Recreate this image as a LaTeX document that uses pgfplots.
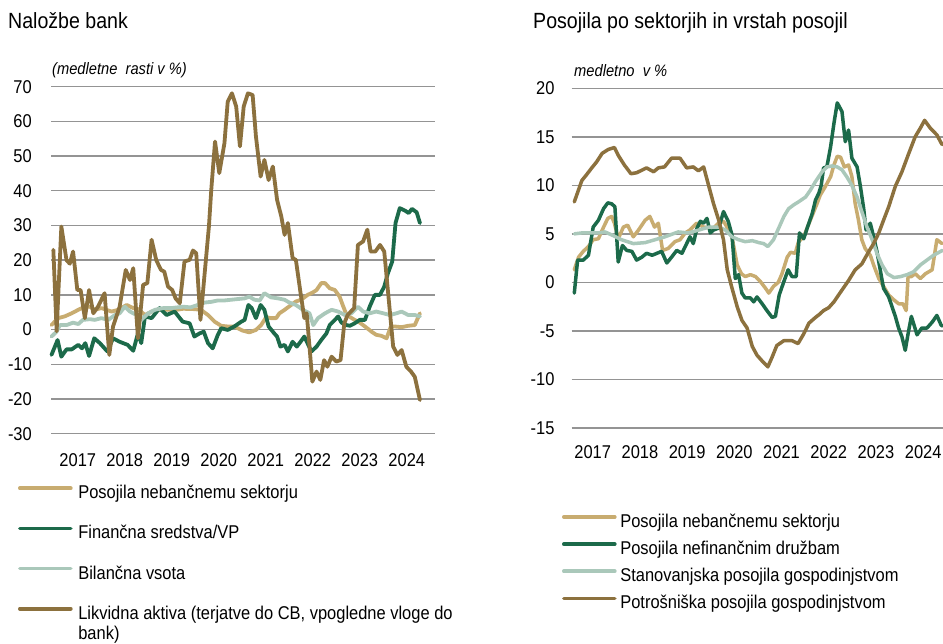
\documentclass[border=0pt]{standalone}
\usepackage{fontspec}
\setmainfont{Liberation Sans}[FakeStretch=0.89]
\usepackage{pgfplots}
\pgfplotsset{compat=1.18}
\definecolor{cTan}{RGB}{200,172,112}
\definecolor{cGreen}{RGB}{28,106,74}
\definecolor{cGrey}{RGB}{170,200,186}
\definecolor{cBrown}{RGB}{140,113,62}
\newcommand{\ftick}{\fontsize{18.5bp}{22bp}\selectfont}
\newcommand{\ftitle}{\fontsize{22bp}{26bp}\selectfont}
\newcommand{\fsub}{\fontsize{16.5bp}{20bp}\selectfont\itshape}
\newcommand{\fleg}{\fontsize{18.5bp}{19bp}\selectfont}
\pgfplotsset{mystyle/.style={
  scale only axis, clip=false,
  axis line style={draw=none}, tick style={draw=none},
  ymajorgrids, major grid style={line width=1.4bp, color=black!42},
  /pgf/number format/assume math mode=true,
  ticklabel style={font=\ftick},
  xticklabel style={inner sep=0pt, anchor=north},
  yticklabel style={inner sep=0pt, anchor=east},
  xtick={2017,2018,2019,2020,2021,2022,2023,2024},
  xticklabels={2017,2018,2019,2020,2021,2022,2023,2024},
  every axis plot/.append style={line join=round, line cap=round},
  legend cell align=left,
  legend image code/.code={\draw[##1, line width=3.6bp, line cap=round] (0bp,4.5bp) -- (51bp,4.5bp);},
}}
\begin{document}
\begin{tikzpicture}
\useasboundingbox (0,0) rectangle (943bp,644bp);
\fill[white] (0,0) rectangle (943bp,644bp);
\node[anchor=base west, inner sep=0pt, font=\ftitle] at (8bp,615bp) {Naložbe bank};
\node[anchor=base west, inner sep=0pt, font=\ftitle] at (533bp,615bp) {Posojila po sektorjih in vrstah posojil};
\node[anchor=base west, inner sep=0pt, font=\fsub] at (52bp,569bp) {(medletne \ rasti v \%)};
\node[anchor=base west, inner sep=0pt, font=\fsub] at (574bp,567.5bp) {medletno \ v \%};

\begin{axis}[mystyle,
  at={(51bp,210.3bp)}, anchor=south west, width=384bp, height=347bp,
  xmin=2016.43, xmax=2024.60, ymin=-30, ymax=70, ytick={-30,-20,...,70},
  xticklabel style={yshift=-20bp}, yticklabel style={xshift=-19bp},
  legend style={draw=none, fill=none, inner sep=0pt, outer sep=0pt, font=\fleg,
    row sep=25.2bp, column sep=5.7bp, nodes={inner sep=0pt},
    at={(-0.0859,-0.1487)}, anchor=north west},
  every axis plot/.append style={line width=3.8bp},
]
\addplot[cTan] coordinates {(2016.44,1.3) (2016.58,3.3) (2016.72,3.8) (2016.87,4.7) (2017.01,5.7) (2017.15,6.6) (2017.26,6.6) (2017.36,5.7) (2017.50,6.2) (2017.61,5.7) (2017.72,5.2) (2017.86,5.7) (2018.04,7.1) (2018.18,6.2) (2018.28,5.9) (2018.43,4.2) (2018.57,5.2) (2018.74,5.7) (2018.92,5.7) (2019.10,5.7) (2019.24,6.0) (2019.48,5.9) (2019.62,5.7) (2019.77,4.2) (2019.91,2.3) (2020.05,1.1) (2020.19,0.9) (2020.33,0.9) (2020.51,-0.3) (2020.65,-0.8) (2020.79,-0.1) (2020.90,1.3) (2021.01,3.6) (2021.11,3.3) (2021.22,3.3) (2021.29,4.7) (2021.40,5.7) (2021.54,7.1) (2021.64,8.1) (2021.75,8.6) (2021.89,10) (2022.00,10.7) (2022.08,11.4) (2022.18,13.4) (2022.26,13.4) (2022.36,11.9) (2022.47,11.4) (2022.57,9.5) (2022.65,6.6) (2022.72,4.2) (2022.89,2.8) (2023.00,2) (2023.11,0.9) (2023.25,-0.6) (2023.35,-1.5) (2023.46,-1.8) (2023.57,-2.5) (2023.66,0.9) (2023.74,0.9) (2023.89,0.7) (2024.03,1.1) (2024.17,1.3) (2024.28,4.7)};
\addlegendentry{\strut Posojila nebančnemu sektorju}
\addplot[cGreen] coordinates {(2016.44,-7.3) (2016.57,-3) (2016.65,-7.8) (2016.76,-5.7) (2016.87,-5.7) (2017.01,-4.4) (2017.09,-5.4) (2017.16,-3.9) (2017.24,-7.6) (2017.35,-2.5) (2017.47,-3.9) (2017.63,-6.3) (2017.75,-2.5) (2017.89,-3.5) (2018.06,-4.4) (2018.18,-6.1) (2018.28,-1.1) (2018.35,-3.9) (2018.43,3.8) (2018.57,3.3) (2018.74,6.2) (2018.89,4.2) (2019.06,5.2) (2019.23,2.3) (2019.38,1.8) (2019.48,-2) (2019.59,-1.1) (2019.68,-0.6) (2019.77,-3.9) (2019.87,-5.4) (2019.98,-1.5) (2020.05,0.4) (2020.19,-0.1) (2020.33,0.9) (2020.48,2.3) (2020.55,2.8) (2020.63,7.1) (2020.70,6.2) (2020.79,3.3) (2020.89,7.1) (2020.97,5.7) (2021.06,0.9) (2021.18,-1.1) (2021.24,-2) (2021.31,-4.9) (2021.40,-4.4) (2021.47,-6.3) (2021.57,-3.5) (2021.66,-4.9) (2021.74,-3.5) (2021.82,-2) (2021.97,-6.3) (2022.08,-4.9) (2022.18,-3) (2022.29,-1.1) (2022.36,1.3) (2022.47,2.8) (2022.54,3.8) (2022.61,2) (2022.72,1.3) (2022.79,1.1) (2022.89,1.8) (2023.00,2.8) (2023.11,2.8) (2023.21,6.6) (2023.32,10) (2023.43,10) (2023.52,12.4) (2023.60,16.3) (2023.69,19.6) (2023.76,30.7) (2023.85,35) (2023.96,34.3) (2024.04,33.6) (2024.11,34.8) (2024.21,33.8) (2024.28,30.7)};
\addlegendentry{\strut Finančna sredstva/VP}
\addplot[cGrey] coordinates {(2016.44,-2) (2016.55,-0.6) (2016.62,1.3) (2016.76,1.3) (2016.90,2) (2017.01,1.6) (2017.11,2.8) (2017.26,3) (2017.36,2.8) (2017.50,3.3) (2017.65,2.8) (2017.79,4.2) (2017.89,4.7) (2018.00,6.6) (2018.11,5.2) (2018.25,4.2) (2018.35,2.8) (2018.50,4.7) (2018.64,5.7) (2018.82,6.2) (2018.99,6.2) (2019.24,6.6) (2019.40,6.4) (2019.55,7.1) (2019.70,7.8) (2019.84,8) (2019.98,8.4) (2020.12,8.4) (2020.26,8.6) (2020.40,8.8) (2020.55,9) (2020.65,9.5) (2020.76,8.6) (2020.87,8.4) (2020.97,10.5) (2021.11,9.3) (2021.26,9) (2021.40,8.6) (2021.50,7.8) (2021.64,7.1) (2021.79,5.7) (2021.93,4.7) (2022.01,1.3) (2022.11,3.3) (2022.26,4.7) (2022.40,5.7) (2022.54,5.2) (2022.68,4.2) (2022.82,4.7) (2022.96,6.6) (2023.07,5.2) (2023.21,4.7) (2023.35,5.2) (2023.50,4.7) (2023.64,4.2) (2023.78,4.7) (2023.89,5.2) (2024.03,4.2) (2024.17,4.2) (2024.28,3.8)};
\addlegendentry{\strut Bilančna vsota}
\addplot[cBrown] coordinates {(2016.48,23) (2016.55,-0.5) (2016.65,29.7) (2016.76,20) (2016.83,19) (2016.90,22.5) (2016.99,11.4) (2017.06,11.4) (2017.15,3.3) (2017.24,11.4) (2017.33,4.7) (2017.43,6.6) (2017.57,10.5) (2017.67,-7.3) (2017.75,0.9) (2017.89,6.6) (2018.02,17.2) (2018.11,14.3) (2018.18,17.7) (2018.28,-2.5) (2018.39,12.9) (2018.48,13.4) (2018.57,25.9) (2018.67,20) (2018.77,17.2) (2018.84,16.7) (2018.92,12.4) (2019.01,11.4) (2019.08,9) (2019.17,7.6) (2019.27,19.6) (2019.38,20.1) (2019.45,22.8) (2019.52,22) (2019.61,2.8) (2019.70,16.3) (2019.79,29.7) (2019.84,40.3) (2019.92,54.2) (2020.01,45.1) (2020.12,53.7) (2020.19,65.7) (2020.28,68.1) (2020.37,64.3) (2020.45,52.8) (2020.53,64.3) (2020.62,68.1) (2020.72,67.6) (2020.79,55.7) (2020.89,44.1) (2020.97,48.9) (2021.06,43.1) (2021.15,47) (2021.24,37.4) (2021.33,32.6) (2021.40,27.3) (2021.47,30.7) (2021.57,20.6) (2021.64,20.1) (2021.74,10.5) (2021.82,3.3) (2021.87,4.7) (2021.93,-4.9) (2021.99,-15) (2022.08,-12.1) (2022.16,-14.5) (2022.24,-8.8) (2022.31,-10.7) (2022.40,-7.8) (2022.50,-9.2) (2022.59,-8.8) (2022.67,1.8) (2022.74,4.2) (2022.88,6.2) (2022.96,24.4) (2023.07,25.4) (2023.16,28.8) (2023.23,22.5) (2023.33,22.5) (2023.43,24.4) (2023.52,22.5) (2023.59,12.4) (2023.71,-4.9) (2023.80,-7.3) (2023.89,-5.9) (2023.99,-10.7) (2024.09,-12.1) (2024.17,-13.6) (2024.28,-20.3)};
\addlegendentry{\parbox[t]{400bp}{\fleg\strut Likvidna aktiva (terjatve do CB, vpogledne vloge do\\bank)}}
\end{axis}

\begin{axis}[mystyle,
  at={(571.7bp,216bp)}, anchor=south west, width=371.3bp, height=339.7bp,
  xmin=2016.555, xmax=2024.42, ymin=-15, ymax=20, ytick={-15,-10,...,20},
  xticklabel style={yshift=-17bp}, yticklabel style={xshift=-17bp},
  legend style={draw=none, fill=none, inner sep=0pt, outer sep=0pt, font=\fleg,
    row sep=12.2bp, column sep=3.7bp, nodes={inner sep=0pt},
    at={(-0.0261,-0.2532)}, anchor=north west},
  every axis plot/.append style={line width=3.5bp},
]
\addplot[cTan] coordinates {(2016.61,1.3) (2016.70,2.6) (2016.80,3.2) (2016.91,3.7) (2017.01,4.4) (2017.12,4.5) (2017.23,5.7) (2017.32,6.6) (2017.40,6.8) (2017.46,6.1) (2017.54,4.5) (2017.65,5.7) (2017.74,5.9) (2017.86,4.7) (2017.97,5.4) (2018.11,6.4) (2018.21,6.8) (2018.31,5.7) (2018.39,6.1) (2018.48,3.3) (2018.60,3.5) (2018.74,4.2) (2018.85,4.4) (2018.96,5.1) (2019.06,5.4) (2019.20,6.1) (2019.35,5.7) (2019.56,5.6) (2019.66,6.1) (2019.77,6.3) (2019.87,5.5) (2019.95,4.7) (2020.06,1.8) (2020.15,0.9) (2020.23,0.6) (2020.34,0.8) (2020.45,0.6) (2020.55,0.1) (2020.66,-0.6) (2020.73,-1.1) (2020.83,-0.4) (2020.93,0) (2021.01,0.9) (2021.12,2.6) (2021.19,3.1) (2021.29,3) (2021.36,4.2) (2021.47,4.7) (2021.55,5.7) (2021.65,6.9) (2021.75,8.1) (2021.82,9) (2021.93,9.9) (2022.04,10.9) (2022.11,12.1) (2022.18,13) (2022.25,12.9) (2022.33,11.9) (2022.42,12.1) (2022.49,10.9) (2022.56,8.1) (2022.63,6.4) (2022.70,4.4) (2022.77,3.5) (2022.88,2.8) (2022.95,1.8) (2023.06,0.4) (2023.16,-0.4) (2023.27,-1.3) (2023.38,-1.8) (2023.48,-2.2) (2023.57,-2.2) (2023.64,-2.9) (2023.68,0.6) (2023.75,0.6) (2023.83,0.9) (2023.94,0.4) (2024.05,0.9) (2024.19,1.3) (2024.29,4.4) (2024.40,4)};
\addlegendentry{\strut Posojila nebančnemu sektorju}
\addplot[cGreen] coordinates {(2016.61,-1.1) (2016.68,2.3) (2016.80,2.3) (2016.91,2.8) (2017.01,5.7) (2017.12,6.4) (2017.23,7.6) (2017.32,8.2) (2017.40,8.1) (2017.47,7.8) (2017.54,2.1) (2017.63,3.8) (2017.72,3.3) (2017.83,3.2) (2017.93,2.3) (2018.04,2.6) (2018.14,3) (2018.26,2.8) (2018.36,3) (2018.46,3.2) (2018.57,2) (2018.67,2.6) (2018.78,3.3) (2018.89,3) (2018.97,3.8) (2019.06,4.7) (2019.13,4.0) (2019.21,5.6) (2019.28,6.3) (2019.35,6.1) (2019.42,6.6) (2019.49,5.1) (2019.56,5.4) (2019.67,5.6) (2019.77,7.3) (2019.87,6.3) (2019.95,4.9) (2020.02,0.4) (2020.09,0.8) (2020.16,-1.1) (2020.23,-1.6) (2020.34,-1.6) (2020.41,-2) (2020.48,-1.5) (2020.59,-2.2) (2020.69,-2.9) (2020.80,-3.6) (2020.87,-3.5) (2020.95,-1.3) (2021.05,0.1) (2021.14,1.3) (2021.22,0.6) (2021.31,0.6) (2021.38,5.1) (2021.47,4.5) (2021.55,5.7) (2021.65,7.1) (2021.72,8.5) (2021.79,9.2) (2021.84,10) (2021.89,11.8) (2021.96,11.9) (2022.04,14) (2022.11,16.4) (2022.18,18.5) (2022.28,17.6) (2022.35,14.5) (2022.42,15.7) (2022.49,12.8) (2022.60,11.9) (2022.67,9.9) (2022.74,7.6) (2022.79,5.4) (2022.88,6.1) (2022.95,4.7) (2023.02,3.2) (2023.09,1.3) (2023.16,-0.6) (2023.27,-1.5) (2023.34,-2.5) (2023.41,-3.5) (2023.48,-4.7) (2023.55,-5.6) (2023.62,-7) (2023.68,-5.3) (2023.75,-3.5) (2023.87,-5.4) (2023.97,-4.7) (2024.08,-4.7) (2024.19,-4.1) (2024.29,-3.4) (2024.38,-4.4) (2024.41,-4.5)};
\addlegendentry{\strut Posojila nefinančnim družbam}
\addplot[cGrey] coordinates {(2016.61,5) (2016.77,5.1) (2016.98,5.1) (2017.12,5.1) (2017.26,5.2) (2017.40,4.9) (2017.61,4.4) (2017.86,4) (2018.11,4.1) (2018.32,4.4) (2018.53,4.7) (2018.81,5.2) (2019.03,5.1) (2019.25,5.4) (2019.46,5.7) (2019.67,5.7) (2019.81,5.4) (2019.95,4.7) (2020.09,4.4) (2020.23,4.2) (2020.38,4.3) (2020.52,4.1) (2020.62,4) (2020.71,3.7) (2020.83,4.4) (2020.94,5.6) (2021.05,6.8) (2021.15,7.6) (2021.26,8) (2021.36,8.3) (2021.51,8.8) (2021.61,9.5) (2021.72,10.4) (2021.86,11.4) (2021.96,11.9) (2022.07,12) (2022.18,11.9) (2022.28,11.6) (2022.38,10.9) (2022.49,10) (2022.60,8.8) (2022.70,7.3) (2022.81,5.7) (2022.92,4.4) (2023.02,3) (2023.13,1.8) (2023.24,0.9) (2023.38,0.5) (2023.52,0.6) (2023.66,0.8) (2023.80,1.1) (2023.94,1.8) (2024.08,2.3) (2024.22,2.8) (2024.41,3.3)};
\addlegendentry{\strut Stanovanjska posojila gospodinjstvom}
\addplot[cBrown] coordinates {(2016.61,8.3) (2016.77,10.5) (2016.87,11.1) (2016.98,11.8) (2017.08,12.4) (2017.20,13.3) (2017.33,13.7) (2017.46,13.9) (2017.54,13.1) (2017.67,12.1) (2017.81,11.2) (2017.93,11.3) (2018.14,11.8) (2018.29,11.4) (2018.39,11.8) (2018.52,11.9) (2018.67,12.8) (2018.85,12.8) (2018.99,11.8) (2019.13,11.9) (2019.24,11.5) (2019.35,11.9) (2019.46,9.9) (2019.56,8.1) (2019.67,6.4) (2019.77,4.4) (2019.85,1.3) (2019.94,-0.4) (2020.06,-2.5) (2020.16,-3.9) (2020.27,-4.7) (2020.38,-6.6) (2020.48,-7.5) (2020.59,-8.1) (2020.71,-8.7) (2020.80,-7.7) (2020.90,-6.5) (2021.05,-6) (2021.22,-6) (2021.35,-6.3) (2021.47,-5.3) (2021.58,-4.2) (2021.72,-3.6) (2021.80,-3.3) (2021.89,-2.9) (2022.00,-2.6) (2022.11,-2) (2022.25,-1) (2022.42,0.2) (2022.56,1.3) (2022.70,1.9) (2022.85,3.2) (2022.95,4) (2023.06,5.1) (2023.16,6.4) (2023.27,7.8) (2023.41,9.9) (2023.55,11.4) (2023.68,13.1) (2023.83,15) (2023.94,15.9) (2024.03,16.7) (2024.15,15.9) (2024.29,15.2) (2024.40,14.2)};
\addlegendentry{\strut Potrošniška posojila gospodinjstvom}
\end{axis}
\end{tikzpicture}
\end{document}
